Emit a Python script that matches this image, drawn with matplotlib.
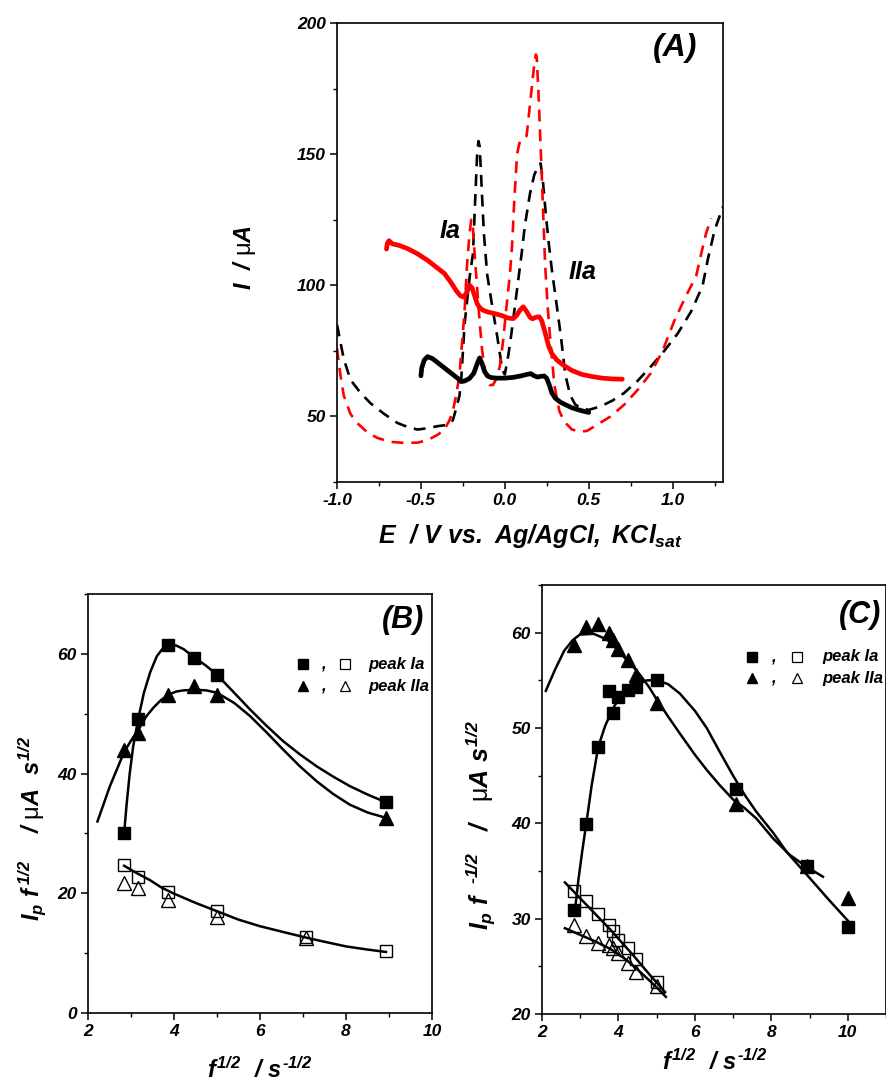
import matplotlib
matplotlib.use("Agg")
import matplotlib.pyplot as plt
from matplotlib.lines import Line2D
from matplotlib.ticker import MultipleLocator, FormatStrFormatter

plt.rcParams['font.family'] = ['Liberation Sans', 'DejaVu Sans']
plt.rcParams['font.weight'] = 'bold'
plt.rcParams['font.style'] = 'italic'
plt.rcParams['axes.unicode_minus'] = False
plt.rcParams['mathtext.fontset'] = 'custom'
plt.rcParams['mathtext.rm'] = 'Liberation Sans:style=italic:weight=bold'
plt.rcParams['mathtext.it'] = 'Liberation Sans:style=italic:weight=bold'
plt.rcParams['mathtext.bf'] = 'Liberation Sans:style=italic:weight=bold'
plt.rcParams['mathtext.sf'] = 'Liberation Sans:style=normal:weight=normal'

# ---------------- Panel A data ----------------
E_black_dash = [-1.00, -0.96, -0.92, -0.86, -0.80, -0.72, -0.64, -0.58, -0.52, -0.46, -0.40, -0.34,
                -0.31, -0.29, -0.27, -0.26, -0.24, -0.21, -0.19, -0.175, -0.165, -0.157, -0.15,
                -0.14, -0.125, -0.105, -0.075, -0.045, -0.015, 0.0, 0.02, 0.04, 0.06, 0.08, 0.10,
                0.12, 0.15, 0.175, 0.195, 0.213, 0.225, 0.243, 0.26, 0.28, 0.31, 0.335, 0.36, 0.39,
                0.42, 0.46, 0.50, 0.57, 0.64, 0.71, 0.79, 0.87, 0.95, 1.03, 1.11, 1.178, 1.21,
                1.25, 1.30]
I_black_dash = [85, 72, 64, 59, 55, 51, 47.5, 46, 45, 45.5, 46.3, 46.8,
                48.5, 53, 58, 64, 85, 103, 112, 135, 150, 155, 153,
                140, 120, 104, 92, 80.4, 67.7, 66, 73, 82, 92, 102, 112,
                123, 135, 142, 145, 146.5, 141, 128, 117, 106, 92, 80, 66, 58,
                54.5, 53, 52.5, 53.8, 56, 58.9, 63.5, 69, 75, 81.6, 90, 99.7, 110,
                121, 130]

E_red_dash = [-1.00, -0.98, -0.96, -0.92, -0.88, -0.82, -0.76, -0.68, -0.60, -0.52, -0.46, -0.40,
              -0.36, -0.33, -0.31, -0.29, -0.27, -0.255, -0.24, -0.225, -0.21, -0.20, -0.19,
              -0.18, -0.165, -0.15, -0.135, -0.115, -0.09, -0.07, -0.05, -0.03, -0.01, 0.01,
              0.03, 0.043, 0.057, 0.073, 0.09, 0.115, 0.13, 0.145, 0.16, 0.175, 0.185, 0.19,
              0.20, 0.21, 0.22, 0.23, 0.24, 0.255, 0.27, 0.295, 0.325, 0.355, 0.40, 0.45, 0.49,
              0.55, 0.63, 0.71, 0.79, 0.87, 0.94, 1.01, 1.08, 1.14, 1.17, 1.20, 1.23]
I_red_dash = [76, 66, 58, 51, 47.5, 44, 41.8, 40.3, 39.9, 40, 41, 43,
              45, 48.5, 52, 58, 66, 78, 90, 108, 120, 125, 122,
              112, 99, 86, 75, 66, 62, 62, 64.5, 69, 79, 92,
              104, 115, 133, 150, 155, 156, 157, 166, 175, 184, 188, 187,
              174, 158, 142, 125, 108, 92, 80, 62, 52, 48, 45, 44.2, 44.5,
              46.8, 50, 54.4, 60, 66.5, 75, 86.5, 96, 103.5, 112, 120, 125.5]

E_black_solid = [-0.50, -0.495, -0.48, -0.46, -0.43, -0.40, -0.36, -0.32, -0.28, -0.26, -0.24,
                 -0.21, -0.185, -0.165, -0.15, -0.135, -0.12, -0.10, -0.08, -0.05, 0.0, 0.05,
                 0.10, 0.13, 0.155, 0.175, 0.195, 0.215, 0.235, 0.25, 0.265, 0.28, 0.30, 0.33,
                 0.36, 0.40, 0.45, 0.50]
I_black_solid = [65.5, 68.5, 71.5, 72.8, 72, 70.5, 68.5, 66.5, 64.5, 63.3, 63.5,
                 64.5, 66.5, 70, 72.3, 70, 67, 65.3, 64.8, 64.6, 64.6, 64.9,
                 65.5, 66.0, 66.3, 65.5, 65.0, 65.3, 65.4, 64.5, 62, 59, 57, 55.5,
                 54.5, 53.3, 52.3, 51.5]

E_red_solid = [-0.705, -0.70, -0.69, -0.67, -0.63, -0.58, -0.52, -0.46, -0.41, -0.36, -0.32,
               -0.29, -0.265, -0.245, -0.225, -0.21, -0.195, -0.18, -0.165, -0.15, -0.13,
               -0.10, -0.06, -0.02, 0.02, 0.05, 0.07, 0.09, 0.11, 0.13, 0.15, 0.165, 0.185,
               0.205, 0.22, 0.24, 0.26, 0.28, 0.31, 0.35, 0.40, 0.46, 0.52, 0.58, 0.64, 0.70]
I_red_solid = [113.8, 116, 117, 115.8, 115.2, 114, 112, 109.5, 107, 104.5, 101,
               98, 96, 95.5, 97.5, 100, 99, 96, 93, 91.5, 90.5,
               89.8, 89.2, 88.5, 87.5, 87.3, 88.5, 90.5, 91.8, 90, 87.8, 87.2, 87.8,
               88, 86.5, 82, 77, 74, 71.5, 69.5, 67.5, 66, 65.2, 64.6, 64.3, 64.2]

# ---------------- Panel B data ----------------
B_x_sq = [2.83, 3.16, 3.87, 4.47, 5.0, 8.94]
B_filled_sq = [30.0, 49.2, 61.4, 59.3, 56.5, 35.2]
B_x_tri = [2.83, 3.16, 3.87, 4.47, 5.0, 8.94]
B_filled_tri = [44.0, 46.8, 53.2, 54.6, 53.2, 32.6]
B_x_open_sq = [2.83, 3.16, 3.87, 5.0, 7.07, 8.94]
B_open_sq = [24.8, 22.8, 20.2, 17.1, 12.7, 10.3]
B_x_open_tri = [2.83, 3.16, 3.87, 5.0, 7.07]
B_open_tri = [21.8, 20.9, 18.9, 16.0, 12.5]

B_fit_sq_x = [2.84, 2.90, 2.97, 3.05, 3.17, 3.30, 3.45, 3.60, 3.75, 3.88, 4.05, 4.22, 4.49,
              4.75, 5.0, 5.4, 5.77, 6.15, 6.54, 6.93, 7.32, 7.7, 8.09, 8.5, 8.93]
B_fit_sq_y = [30.0, 35.0, 40.0, 44.5, 49.2, 53.5, 57.0, 59.6, 61.0, 61.5, 61.4, 60.8, 59.3,
              58.0, 56.5, 53.5, 50.7, 48.0, 45.4, 43.2, 41.2, 39.5, 37.9, 36.5, 35.2]
B_fit_tri_x = [2.22, 2.51, 2.84, 3.0, 3.17, 3.35, 3.52, 3.7, 3.88, 4.05, 4.22, 4.51, 4.75,
               5.0, 5.4, 5.77, 6.15, 6.54, 6.93, 7.32, 7.7, 8.09, 8.5, 8.93]
B_fit_tri_y = [32.0, 37.9, 43.6, 45.5, 47.3, 49.5, 51.0, 52.3, 53.2, 53.7, 53.9, 54.0, 53.9,
               53.5, 51.8, 49.6, 46.9, 44.0, 41.2, 38.7, 36.6, 34.8, 33.5, 32.6]
B_fit_open_x = [2.84, 3.1, 3.44, 3.7, 3.98, 4.5, 5.0, 5.5, 6.0, 6.5, 7.07, 7.5, 8.02, 8.5, 8.93]
B_fit_open_y = [24.6, 23.5, 22.2, 21.0, 20.0, 18.4, 17.0, 15.6, 14.5, 13.6, 12.6, 11.9, 11.1,
                10.6, 10.2]

# ---------------- Panel C data ----------------
C_x_sq = [2.83, 3.16, 3.46, 3.74, 3.87, 4.0, 4.24, 4.47, 5.0, 7.07, 8.94, 10.0]
C_filled_sq = [30.9, 39.9, 48.0, 53.9, 51.6, 53.2, 54.0, 54.3, 55.0, 43.6, 35.5, 29.1]
C_x_tri = [2.83, 3.16, 3.46, 3.74, 3.87, 4.0, 4.24, 4.47, 5.0, 7.07, 8.94, 10.0]
C_filled_tri = [58.7, 60.6, 60.9, 60.0, 59.2, 58.3, 57.1, 55.6, 52.6, 42.0, 35.5, 32.2]
C_x_open = [2.83, 3.16, 3.46, 3.74, 3.87, 4.0, 4.24, 4.47, 5.0]
C_open_sq = [32.9, 31.9, 30.5, 29.3, 28.7, 27.8, 26.9, 25.8, 23.4]
C_open_tri = [29.3, 28.2, 27.4, 27.2, 26.9, 26.4, 25.4, 24.4, 22.9]

C_fit_tri_x = [2.10, 2.35, 2.58, 2.8, 2.99, 3.34, 3.69, 3.9, 4.13, 4.35, 4.56, 4.8, 5.0, 5.3,
               5.61, 6.0, 6.31, 6.65, 7.0, 7.3, 7.61, 8.05, 8.48, 8.9, 9.35]
C_fit_tri_y = [53.9, 56.2, 58.1, 59.2, 59.8, 59.9, 59.3, 58.5, 57.5, 56.6, 55.6, 54.3, 53.0,
               51.2, 49.4, 47.2, 45.6, 44.0, 42.5, 41.6, 40.5, 38.4, 36.7, 35.5, 34.4]
C_fit_sq_x = [2.88, 2.95, 3.05, 3.17, 3.3, 3.47, 3.65, 3.85, 4.0, 4.25, 4.5, 4.75, 5.0, 5.3,
              5.61, 6.0, 6.31, 6.65, 7.0, 7.3, 7.61, 8.05, 8.4, 8.93, 9.5, 10.0]
C_fit_sq_y = [31.5, 34.0, 37.0, 40.3, 44.0, 48.0, 50.2, 52.0, 53.0, 54.0, 54.7, 55.0, 55.0,
              54.6, 53.6, 51.8, 50.0, 47.5, 45.0, 43.0, 41.2, 39.0, 37.0, 34.6, 32.0, 29.8]
C_fit_open_sq_x = [2.60, 3.2, 3.8, 4.4, 4.8, 5.22]
C_fit_open_sq_y = [33.8, 31.3, 28.8, 26.1, 24.2, 22.3]
C_fit_open_tri_x = [2.60, 3.0, 3.4, 3.8, 4.2, 4.6, 5.0, 5.24]
C_fit_open_tri_y = [29.0, 28.3, 27.6, 26.8, 25.7, 24.3, 22.8, 21.8]

W, H = 887, 1081
fig = plt.figure(figsize=(W / 100, H / 100), dpi=100)


def ax_rect(x0, y0, x1, y1):
    return [x0 / W, 1 - y1 / H, (x1 - x0) / W, (y1 - y0) / H]


def fxy(x, y):
    return x / W, 1 - y / H


def style_axes(ax):
    for s in ax.spines.values():
        s.set_linewidth(1.2)
    ax.tick_params(which='major', direction='out', length=5, width=1.1, labelsize=12.5, pad=3)
    ax.tick_params(which='minor', direction='out', length=3, width=1.0)
    ax.tick_params(top=False, right=False, which='both')


# ---------------- Panel A ----------------
axA = fig.add_axes(ax_rect(337, 23, 723, 482))
dash_kw = dict(linewidth=1.9, dashes=(4.5, 3))
axA.plot(E_black_dash, I_black_dash, color='black', **dash_kw)
axA.plot(E_red_dash, I_red_dash, color='#ff0000', **dash_kw)
axA.plot(E_black_solid, I_black_solid, color='black', linewidth=3.4, solid_capstyle='round')
axA.plot(E_red_solid, I_red_solid, color='#ff0000', linewidth=3.4, solid_capstyle='round')
axA.set_xlim(-1.0, 1.3)
axA.set_ylim(25, 200)
axA.xaxis.set_major_locator(MultipleLocator(0.5))
axA.xaxis.set_minor_locator(MultipleLocator(0.25))
axA.yaxis.set_major_locator(MultipleLocator(50))
axA.yaxis.set_minor_locator(MultipleLocator(25))
axA.xaxis.set_major_formatter(FormatStrFormatter('%.1f'))
style_axes(axA)
axA.set_yticks([50, 100, 150, 200])
fig.text(*fxy(675, 48), '(A)', fontsize=23, ha='center', va='center')
fig.text(*fxy(450, 231), 'Ia', fontsize=18, ha='center', va='center')
fig.text(*fxy(583, 272), 'IIa', fontsize=18, ha='center', va='center')
fig.text(*fxy(378, 543), r'$E\ \ /\ V\ vs.\ Ag/AgCl,\ KCl_{sat}$', fontsize=18,
         ha='left', va='baseline')
fig.text(*fxy(245, 257), r'$I\ \ /\ \mathsf{\mu}A$', fontsize=17, rotation=90,
         ha='center', va='center')

# ---------------- Panel B ----------------
axB = fig.add_axes(ax_rect(88, 594, 432, 1013))
fit_kw = dict(color='black', linewidth=1.8)
axB.plot(B_fit_sq_x, B_fit_sq_y, **fit_kw)
axB.plot(B_fit_tri_x, B_fit_tri_y, **fit_kw)
axB.plot(B_fit_open_x, B_fit_open_y, **fit_kw)
axB.plot(B_x_open_sq, B_open_sq, 's', ms=9, mfc='none', mec='black', mew=1.0)
axB.plot(B_x_open_tri, B_open_tri, '^', ms=10, mfc='none', mec='black', mew=1.0)
axB.plot(B_x_sq, B_filled_sq, 's', ms=9, color='black')
axB.plot(B_x_tri, B_filled_tri, '^', ms=10, color='black')
axB.set_xlim(2, 10)
axB.set_ylim(0, 70)
axB.xaxis.set_major_locator(MultipleLocator(2))
axB.xaxis.set_minor_locator(MultipleLocator(1))
axB.yaxis.set_major_locator(MultipleLocator(20))
axB.yaxis.set_minor_locator(MultipleLocator(10))
style_axes(axB)
fig.text(*fxy(403, 620), '(B)', fontsize=22, ha='center', va='center')
fig.text(*fxy(260, 1078), r'$f^{1/2}\ \ /\ s^{\text{-1/2}}$', fontsize=17, ha='center',
         va='baseline')
fig.text(*fxy(33, 828), r'$I_p\ f^{\,1/2}\ \ \ \ /\ \mathsf{\mu}A\ \ s^{1/2}$', fontsize=17,
         rotation=90, ha='center', va='center')

# ---------------- Panel C ----------------
axC = fig.add_axes(ax_rect(542, 585, 886, 1014))
axC.plot(C_fit_sq_x, C_fit_sq_y, **fit_kw)
axC.plot(C_fit_tri_x, C_fit_tri_y, **fit_kw)
axC.plot(C_x_open, C_open_sq, 's', ms=9, mfc='none', mec='black', mew=1.0)
axC.plot(C_x_open, C_open_tri, '^', ms=10, mfc='none', mec='black', mew=1.0)
axC.plot(C_fit_open_sq_x, C_fit_open_sq_y, **fit_kw)
axC.plot(C_fit_open_tri_x, C_fit_open_tri_y, **fit_kw)
axC.plot(C_x_sq, C_filled_sq, 's', ms=9, color='black')
axC.plot(C_x_tri, C_filled_tri, '^', ms=10, color='black')
axC.set_xlim(2, 11)
axC.set_ylim(20, 65)
axC.xaxis.set_major_locator(MultipleLocator(2))
axC.xaxis.set_minor_locator(MultipleLocator(1))
axC.yaxis.set_major_locator(MultipleLocator(10))
axC.yaxis.set_minor_locator(MultipleLocator(5))
style_axes(axC)
axC.set_xticks([2, 4, 6, 8, 10])
fig.text(*fxy(860, 615), '(C)', fontsize=22, ha='center', va='center')
fig.text(*fxy(715, 1070), r'$f^{1/2}\ \ /\ s^{\text{-1/2}}$', fontsize=17, ha='center',
         va='baseline')
fig.text(*fxy(480, 825), r'$I_p\ f^{\ \ \text{-1/2}}\ \ \ /\ \ \ \mathsf{\mu}A\ s^{1/2}$',
         fontsize=18, rotation=90, ha='center', va='center')


# ---------------- legends ----------------
def legend_row(x_fill, x_comma, x_open, x_text, y, marker, label):
    fx, fy = fxy(x_fill, y)
    ox, _ = fxy(x_open, y)
    fig.add_artist(Line2D([fx], [fy], marker=marker, ms=7, color='black', linestyle='none',
                          transform=fig.transFigure))
    fig.add_artist(Line2D([ox], [fy], marker=marker, ms=7, mfc='none', mec='black', mew=0.9,
                          linestyle='none', transform=fig.transFigure))
    fig.text(*fxy(x_comma, y + 1), ',', fontsize=12, ha='center', va='center')
    fig.text(*fxy(x_text, y), label, fontsize=12, ha='left', va='center')


legend_row(303, 323, 345, 368, 664, 's', 'peak Ia')
legend_row(303, 323, 345, 368, 686, '^', 'peak IIa')
legend_row(752, 773, 797, 822, 657, 's', 'peak Ia')
legend_row(752, 773, 797, 822, 678, '^', 'peak IIa')

fig.savefig('out.png', dpi=100)
